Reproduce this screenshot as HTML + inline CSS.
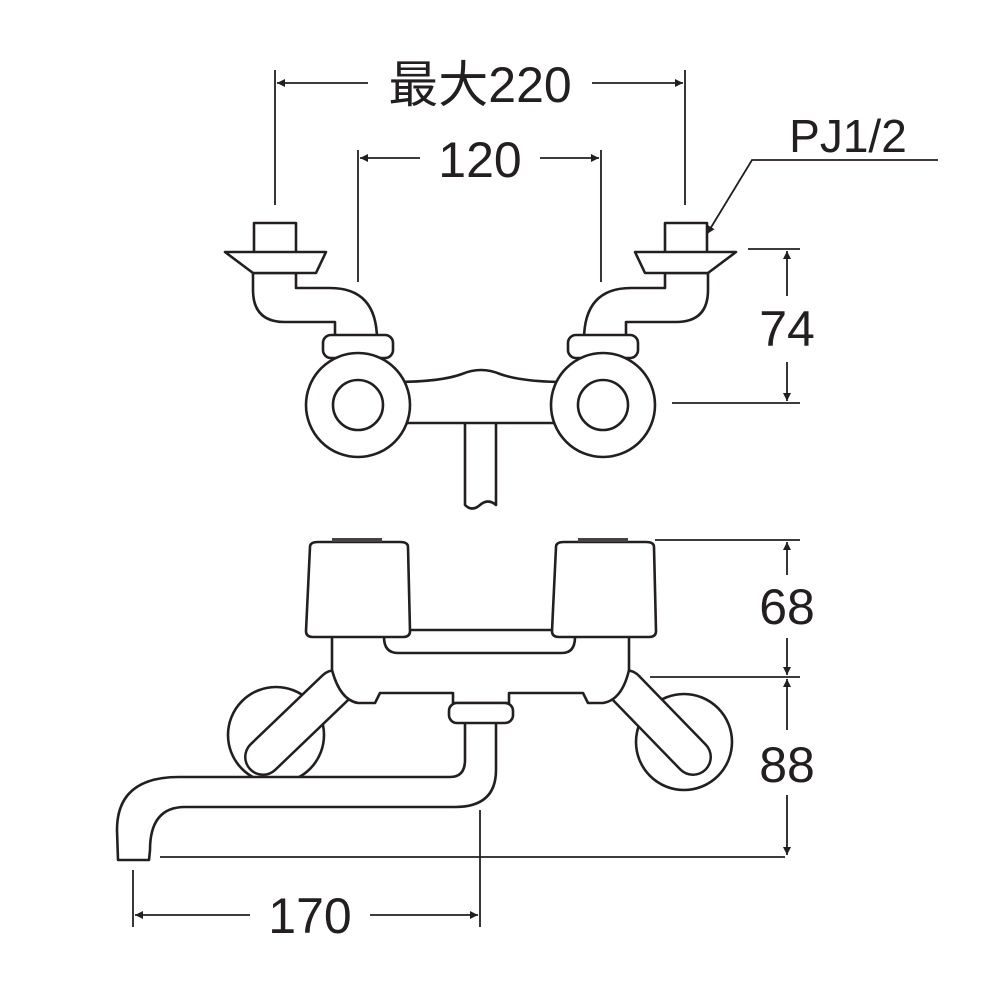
<!DOCTYPE html>
<html><head><meta charset="utf-8"><style>
html,body{margin:0;padding:0;background:#fff}
svg{display:block}
text{font-family:"Liberation Sans","Noto Sans CJK JP",sans-serif;fill:#231f20}
</style></head><body>
<svg width="1000" height="1000" viewBox="0 0 1000 1000" xmlns="http://www.w3.org/2000/svg">
<defs>
<marker id="a" viewBox="0 0 10 10" refX="10" refY="5" markerWidth="14" markerHeight="8" orient="auto-start-reverse" markerUnits="userSpaceOnUse"><path d="M0,0 L10,5 L0,10 z" fill="#231f20"/></marker>
</defs>
<g stroke="#231f20" stroke-width="1.8" fill="none">
<line x1="275" y1="70" x2="275" y2="205"/><line x1="685" y1="70" x2="685" y2="205"/>
<line x1="277" y1="83" x2="368" y2="83" marker-start="url(#a)"/>
<line x1="592" y1="83" x2="683" y2="83" marker-end="url(#a)"/>
<line x1="358" y1="150" x2="358" y2="282"/><line x1="601" y1="150" x2="601" y2="282"/>
<line x1="360" y1="158" x2="420" y2="158" marker-start="url(#a)"/>
<line x1="540" y1="158" x2="599" y2="158" marker-end="url(#a)"/>
<polyline points="938,160 752,160 707,234" marker-end="url(#a)"/>
<line x1="748" y1="249" x2="800" y2="249"/><line x1="672" y1="403" x2="800" y2="403"/>
<line x1="787" y1="251" x2="787" y2="296" marker-start="url(#a)"/>
<line x1="787" y1="362" x2="787" y2="401" marker-end="url(#a)"/>
<line x1="655" y1="540" x2="800" y2="540"/><line x1="650" y1="677" x2="800" y2="677"/>
<line x1="160" y1="857" x2="785" y2="857"/>
<line x1="787" y1="542" x2="787" y2="575" marker-start="url(#a)"/>
<line x1="787" y1="638" x2="787" y2="675" marker-end="url(#a)"/>
<line x1="787" y1="679" x2="787" y2="730" marker-start="url(#a)"/>
<line x1="787" y1="795" x2="787" y2="855" marker-end="url(#a)"/>
<line x1="133" y1="870" x2="133" y2="927"/><line x1="480" y1="810" x2="480" y2="927"/>
<line x1="135" y1="915" x2="250" y2="915" marker-start="url(#a)"/>
<line x1="370" y1="915" x2="478" y2="915" marker-end="url(#a)"/>
</g>

<g stroke="#231f20" stroke-width="2.6" fill="#fff" stroke-linejoin="round">
<path d="M253,273 L253,290 Q253,322 285,322 L335,322 L335,340 L377,340 Q377,288 330,288 L296,288 L296,273 Z"/>
<rect x="254" y="223" width="42" height="30"/>
<path d="M225,252 L326,252 L316,273 L253,273 Z"/>
<g transform="translate(961,0) scale(-1,1)">
<path d="M253,273 L253,290 Q253,322 285,322 L335,322 L335,340 L377,340 Q377,288 330,288 L296,288 L296,273 Z"/>
<rect x="254" y="223" width="42" height="30"/>
<path d="M225,252 L326,252 L316,273 L253,273 Z"/>
</g>
<path d="M465,420 L465,505 Q472,512 480,505 Q488,498 496,505 L496,420 Z"/>
<path d="M395,382 Q440,382 462,374 Q481,366 500,374 Q522,382 566,382 L566,423 L395,423 Z"/>
<rect x="323" y="335" width="70" height="23" rx="8"/>
<rect x="568" y="335" width="70" height="23" rx="8"/>
<circle cx="358" cy="405" r="52"/><circle cx="358" cy="405" r="25"/>
<circle cx="603" cy="405" r="52"/><circle cx="603" cy="405" r="25"/>

<circle cx="276" cy="735" r="48"/>
<circle cx="684" cy="742" r="48"/>
<line x1="335" y1="688" x2="263" y2="757" stroke-width="38" stroke-linecap="round"/>
<line x1="335" y1="688" x2="263" y2="757" stroke="#fff" stroke-width="33" stroke-linecap="round"/>
<line x1="626" y1="688" x2="693" y2="757" stroke-width="38" stroke-linecap="round"/>
<line x1="626" y1="688" x2="693" y2="757" stroke="#fff" stroke-width="33" stroke-linecap="round"/>
<path d="M332,630 L332,670 Q340,700 358,703 L375,703 L380,693 L453,693 L453,703 L509,703 L509,693 L583,693 L588,703 L603,703 Q622,700 629,670 L629,630 Z"/>
<path d="M384,637 Q384,653 398,653 L562,653 Q575,653 575,637"/>
<path d="M310,547 Q310,542 318,542 L400,542 Q408,542 408,547 L410,631 Q410,637 403,637 L313,637 Q306,637 306,631 Z"/>
<path d="M556,547 Q556,542 564,542 L646,542 Q654,542 654,547 L656,631 Q656,637 649,637 L559,637 Q552,637 552,631 Z"/>
<rect x="332" y="538" width="50" height="4" fill="#444" stroke="none"/>
<rect x="578" y="538" width="50" height="4" fill="#444" stroke="none"/>
<path d="M465,722 L496,722 L496,770 Q496,807 455,807 L185,807 Q150,807 150,850 L149,860 L118,860 L117,830 Q117,777 179,777 L450,777 Q465,777 465,760 Z"/>
<rect x="449" y="703" width="64" height="20" rx="8"/>
</g>

<g font-size="50" text-anchor="middle">
<text x="480" y="102">最大220</text>
<text x="480" y="177">120</text>
<text x="848" y="152" font-size="46">PJ1/2</text>
<text x="787" y="346">74</text>
<text x="787" y="624">68</text>
<text x="787" y="782">88</text>
<text x="310" y="933">170</text>
</g>
</svg>
</body></html>
